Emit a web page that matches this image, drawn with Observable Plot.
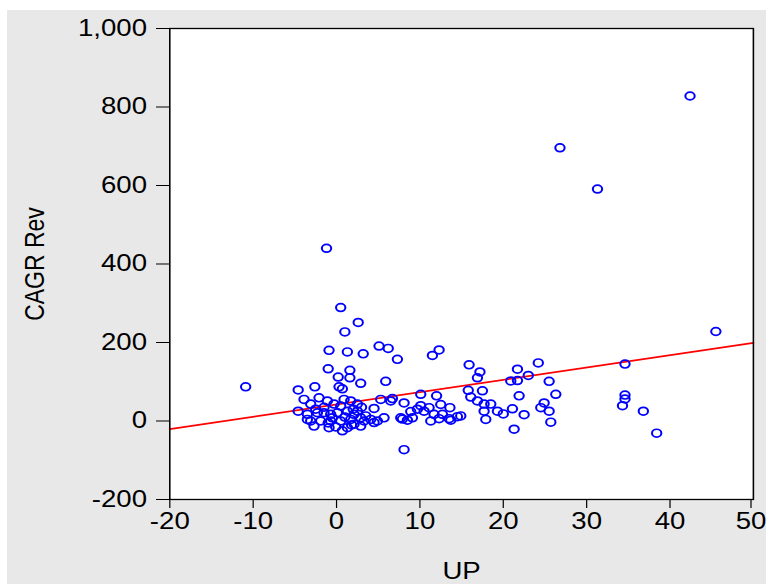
<!DOCTYPE html>
<html><head><meta charset="utf-8">
<script src="https://cdn.jsdelivr.net/npm/d3@7"></script>
<script src="https://cdn.jsdelivr.net/npm/@observablehq/plot@0.6"></script>
<style>
html,body{margin:0;padding:0;background:#fff;width:766px;height:584px;overflow:hidden;}
#bg{position:absolute;left:7px;top:10px;width:759px;height:574px;background:#e8e8e8;}
#chart{position:absolute;left:0;top:0;transform:scaleX(1.2);transform-origin:0 0;}
</style></head><body><div id="bg"></div><div id="chart"></div>
<script>
const upValues = [42.4, 26.8, 31.3, -1.2, 45.5, -10.9, 8.1, 38.4, 36.8, 34.6,
  34.6, 34.6, 34.3, 24.2, 25.5, 26.3, 24.9, 25.5, 25.7, 24.5,
  21.3, 21.7, 23.0, 21.7, 20.9, 21.9, 21.1, 22.5, 20.0, 18.5,
  17.7, 17.7, 17.9, 19.3, 15.9, 17.2, 16.9, 15.8, 17.5, 16.1,
  16.9, 14.9, 14.5, 13.6, 13.7, 13.5, 12.7, 12.5, 12.3, 11.7,
  11.3, 11.1, 12.0, 10.1, 10.1, 10.5, 9.7, 8.9, 9.1, 8.5,
  7.9, 8.1, 6.7, 6.5, 5.9, 11.5, 12.3, 7.3, 5.1, 6.2,
  3.2, 2.6, 1.0, 0.5, 1.3, -0.9, -1.0, 1.6, 0.2, 1.6,
  2.9, 0.3, 0.7, -2.6, -4.6, -4.6, -3.5, 5.7, 4.5, 4.5,
  3.3, 2.1, 1.3, -0.9, 7.7, 5.3, 4.9, -3.9, -3.1, -2.1,
  -1.1, -0.3, 0.9, 1.7, 2.5, -3.5, -2.3, -1.5, -0.7, 0.1,
  1.3, 2.5, -3.1, -1.9, -0.7, 0.5, 1.7, 2.9, 4.1, -2.7,
  -0.1, 2.1, 0.7, 2.9, 3.5, -1.5, 0.5, 2.0, -2.5, 1.0,
  -0.5, 3.0, -1.0, 1.8];
const cagrRevValues = [828, 696, 591, 440, 228, 87, -73, -31, 25, 145,
  66, 56, 39, 148, 101, 68, 46, 25, -3, 34,
  -21, 132, 116, 103, 102, 64, 31, 16, 18, 43,
  43, 25, 4, 25, 143, 125, 110, 78, 77, 61,
  51, 13, 11, 34, 2, 6, 17, 42, 6, 17,
  0, 34, 64, 68, 39, 25, 30, 24, 8, 2,
  5, 46, 57, 51, 101, 167, 181, 157, 191, 185,
  171, 251, 227, 289, 176, 180, 133, 129, 112, 110,
  96, 87, 82, 87, 79, 25, 4, 8, 32, -4,
  0, 17, -17, -17, 8, 55, 0, 55, 43, 59,
  51, 43, 55, 51, 43, 17, 21, 21, 17, 21,
  25, 25, 0, 0, 0, 0, 4, 8, 4, -13,
  -15, -8, -25, -13, 13, 35, 38, 30, 30, 10,
  8, 35, -5, -10];
const xTicks = [-20, -10, 0, 10, 20, 30, 40, 50];
const yTicks = [-200, 0, 200, 400, 600, 800, 1000];
const xDomain = [-20, 50];
const yDomain = [-200, 1000];
const fitIntercept = 42;
const fitSlope = 3.14;

const points = upValues.map((u, i) => ({up: u, cagr: cagrRevValues[i]}));
const fitLine = xDomain.map(x => ({x, y: fitIntercept + fitSlope * x}));
const fmt = d3.formatLocale({decimal: ".", thousands: ",", grouping: [3], currency: ["$", ""], minus: "-"}).format(",");

const S = 1.2;
const plot = Plot.plot({
  width: 766 / S,
  height: 584,
  marginLeft: 141, marginRight: 11, marginTop: 28, marginBottom: 85,
  style: {background: "transparent", fontFamily: "'Liberation Sans', Arial, sans-serif", fontSize: "23px", color: "#000", overflow: "visible"},
  x: {domain: xDomain},
  y: {domain: yDomain},
  marks: [
    Plot.frame({fill: "white"}),
    Plot.line(fitLine, {x: "x", y: "y", stroke: "#ff0000", strokeWidth: 1.7}),
    Plot.dot(points, {x: "up", y: "cagr", r: 3.9, stroke: "#0000ff", strokeWidth: 1.7}),
    Plot.frame({stroke: "black", strokeWidth: 1.3}),
    Plot.axisX({ticks: xTicks.slice(0, -1), tickFormat: fmt, tickSize: 9, tickPadding: 4, label: "UP", labelAnchor: "center", labelArrow: "none", labelOffset: 80}),
    Plot.axisX({ticks: xTicks.slice(-1), tickFormat: fmt, tickSize: 9, tickPadding: 4, dx: -2, label: null}),
    Plot.axisY({ticks: yTicks, tickFormat: fmt, tickSize: 11, tickPadding: 8, label: "CAGR Rev", labelAnchor: "center", labelArrow: "none", labelOffset: 121})
  ]
});
document.getElementById("chart").appendChild(plot);
</script>
</body></html>
